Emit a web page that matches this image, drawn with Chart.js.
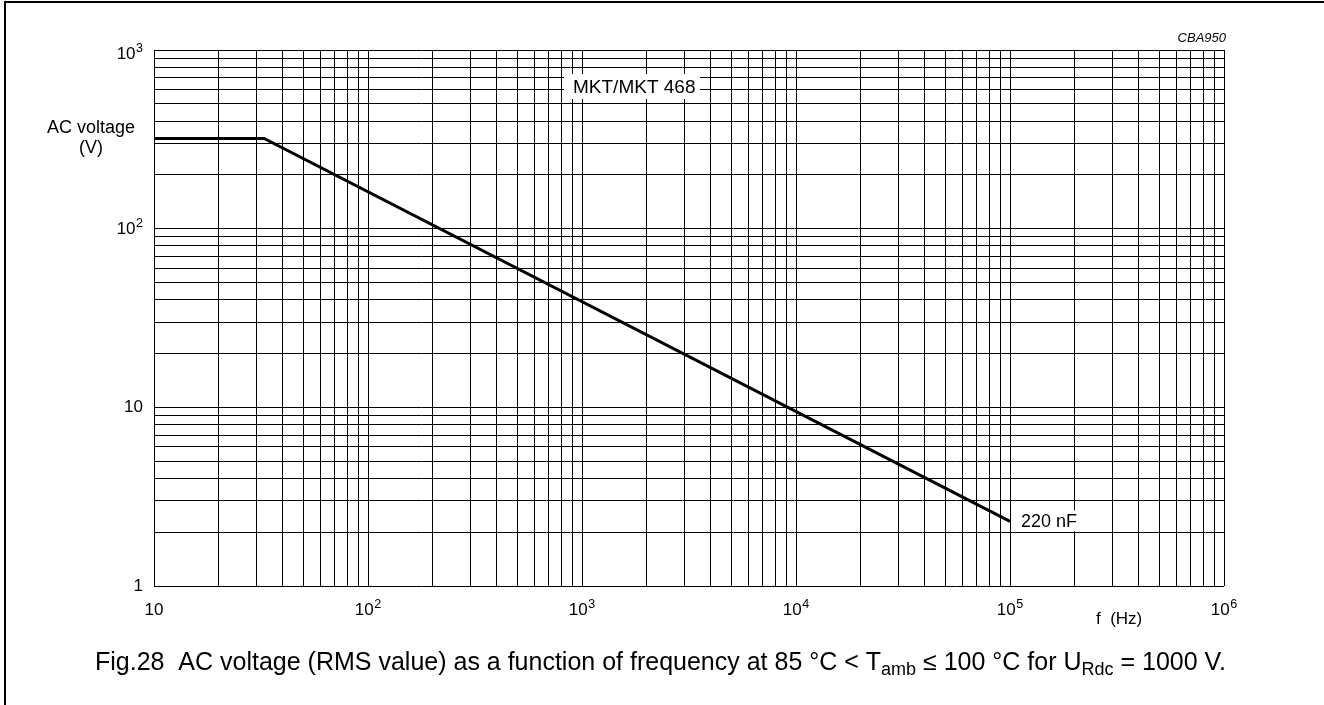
<!DOCTYPE html>
<html>
<head>
<meta charset="utf-8">
<title>AC voltage vs frequency</title>
<script src="https://cdn.jsdelivr.net/npm/chart.js@4/dist/chart.umd.min.js"></script>
<style>
  html, body { margin: 0; padding: 0; background: #fff; overflow: hidden; }
  #chart { display: block; }
</style>
</head>
<body>
<canvas id="chart" width="1324" height="705"></canvas>
<script>
'use strict';

// Curve (220 nF)
const freqHz = [10, 32.7, 100000];
const acVoltage = [320, 320, 2.3];

// Axis ranges and labelled decades
const xRange = [10, 1000000];
const yRange = [1, 1000];
const xTickValues = [10, 100, 1000, 10000, 100000, 1000000];
const xTickLabels = [['10', ''], ['10', '2'], ['10', '3'], ['10', '4'], ['10', '5'], ['10', '6']];
const yTickValues = [1, 10, 100, 1000];
const yTickLabels = [['1', ''], ['10', ''], ['10', '2'], ['10', '3']];

const FONT = '"Liberation Sans", Arial, Helvetica, sans-serif';

// grid at 1..9 of every decade between lo and hi
function decadeGrid(lo, hi) {
  const vals = [];
  for (let d = lo; d < hi; d *= 10) {
    for (let m = 1; m <= 9; m++) vals.push(Number((m * d).toPrecision(12)));
  }
  vals.push(hi);
  return vals.map(v => ({ value: v }));
}

// base "10" with a raised exponent
function drawPow(ctx, base, exp, x, y, align) {
  ctx.font = '17px ' + FONT;
  const wb = ctx.measureText(base).width;
  ctx.font = '12.5px ' + FONT;
  const we = exp ? ctx.measureText(exp).width + 0.5 : 0;
  const total = wb + we;
  const x0 = align === 'center' ? x - total / 2 : x - total;
  ctx.textAlign = 'left';
  ctx.textBaseline = 'alphabetic';
  ctx.font = '17px ' + FONT;
  ctx.fillText(base, x0, y);
  if (exp) {
    ctx.font = '12.5px ' + FONT;
    ctx.fillText(exp, x0 + wb + 0.5, y - 7);
  }
}

// text made of normal and subscript pieces
function drawRich(ctx, parts, x, y, size) {
  let cx = x;
  ctx.textAlign = 'left';
  ctx.textBaseline = 'alphabetic';
  parts.forEach(p => {
    const s = p.sub ? size * 0.72 : size;
    ctx.font = s + 'px ' + FONT;
    ctx.fillText(p.t, cx, p.sub ? y + 5 : y);
    cx += ctx.measureText(p.t).width;
  });
}

// ---------------------------------------------------------------------------
// Texts, frame and tick labels
// ---------------------------------------------------------------------------
const figText = {
  id: 'figText',
  afterDraw(chart) {
    const { ctx, chartArea: a } = chart;
    const xs = chart.scales.x;
    const ys = chart.scales.y;
    ctx.save();
    ctx.fillStyle = '#000';

    // page frame (top and left only)
    ctx.fillRect(4, 1, 1320, 2);
    ctx.fillRect(4, 1, 2, 704);

    xTickValues.forEach((v, i) => {
      drawPow(ctx, xTickLabels[i][0], xTickLabels[i][1], xs.getPixelForValue(v), a.bottom + 29, 'center');
    });
    yTickValues.forEach((v, i) => {
      const py = Math.max(ys.getPixelForValue(v) + 5, a.top + 9);
      drawPow(ctx, yTickLabels[i][0], yTickLabels[i][1], a.left - 11, py, 'right');
    });

    ctx.textAlign = 'center';
    ctx.font = '18px ' + FONT;
    ctx.fillText('AC voltage', 91, 133);
    ctx.fillText('(V)', 91, 153);

    ctx.font = '17px ' + FONT;
    ctx.textAlign = 'left';
    ctx.fillText('f  (Hz)', 1096, 624);

    ctx.font = 'italic 13px ' + FONT;
    ctx.textAlign = 'right';
    ctx.fillText('CBA950', 1226, 42);

    // series name boxes
    ctx.font = '19px ' + FONT;
    ctx.textAlign = 'left';
    ctx.fillStyle = '#fff';
    ctx.fillRect(564, 74, 136, 25);
    ctx.fillStyle = '#000';
    ctx.fillText('MKT/MKT 468', 573, 93);

    const n = freqHz.length - 1;
    const ex = xs.getPixelForValue(freqHz[n]);
    const ey = ys.getPixelForValue(acVoltage[n]);
    ctx.font = '18px ' + FONT;
    const w = ctx.measureText('220 nF').width;
    ctx.fillStyle = '#fff';
    ctx.fillRect(ex + 9, ey - 11, w + 5, 21);
    ctx.fillStyle = '#000';
    ctx.fillText('220 nF', ex + 11, ey + 6);

    drawRich(ctx, [
      { t: 'Fig.28  AC voltage (RMS value) as a function of frequency at 85 \u00B0C < T' },
      { t: 'amb', sub: true },
      { t: ' \u2264 100 \u00B0C for U' },
      { t: 'Rdc', sub: true },
      { t: ' = 1000 V.' },
    ], 95, 670, 25);

    ctx.restore();
  },
};

// ---------------------------------------------------------------------------
// Chart
// ---------------------------------------------------------------------------
const gridStyle = { color: '#000', lineWidth: 1, drawTicks: false };

new Chart(document.getElementById('chart').getContext('2d'), {
  type: 'line',
  data: {
    datasets: [{
      label: '220 nF',
      data: freqHz.map((f, i) => ({ x: f, y: acVoltage[i] })),
      borderColor: '#000',
      borderWidth: 3,
      pointRadius: 0,
      fill: false,
      tension: 0,
    }],
  },
  options: {
    responsive: false,
    animation: false,
    devicePixelRatio: 1,
    layout: { padding: { left: 154, right: 100, top: 50, bottom: 119 } },
    plugins: { legend: { display: false }, tooltip: { enabled: false } },
    scales: {
      x: {
        type: 'logarithmic',
        min: xRange[0],
        max: xRange[1],
        grid: gridStyle,
        border: { display: false },
        ticks: { display: false, autoSkip: false },
        afterBuildTicks: s => { s.ticks = decadeGrid(xRange[0], xRange[1]); },
        afterFit: s => { s.height = 0; },
      },
      y: {
        type: 'logarithmic',
        min: yRange[0],
        max: yRange[1],
        grid: gridStyle,
        border: { display: false },
        ticks: { display: false, autoSkip: false },
        afterBuildTicks: s => { s.ticks = decadeGrid(yRange[0], yRange[1]); },
        afterFit: s => { s.width = 0; },
      },
    },
  },
  plugins: [figText],
});
</script>
</body>
</html>
